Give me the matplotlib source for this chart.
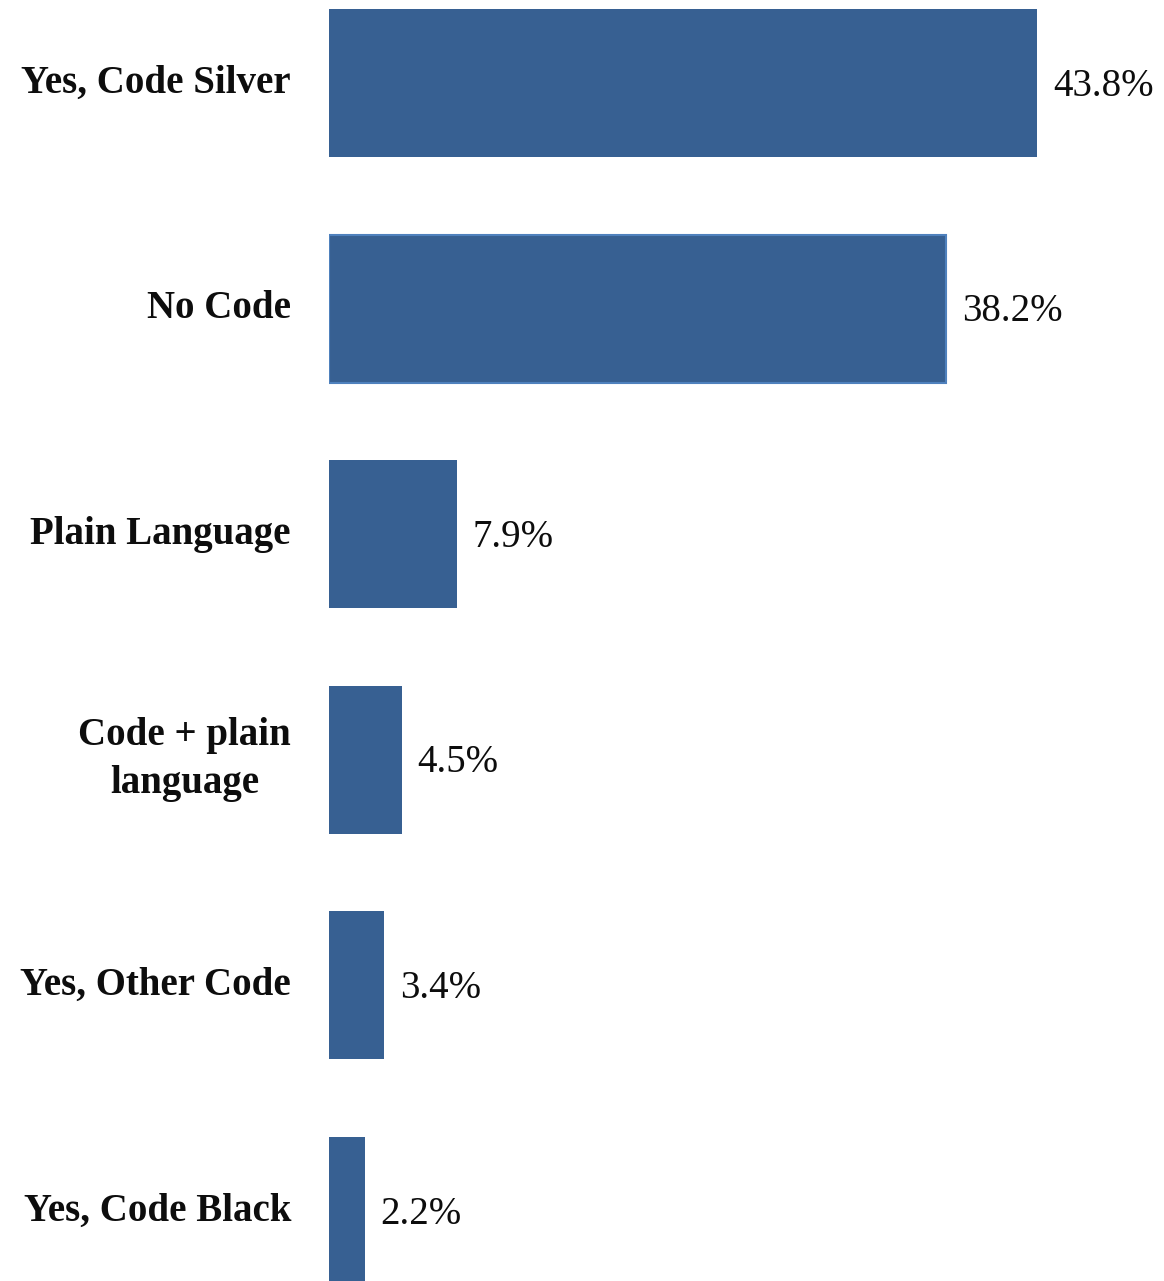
import matplotlib.pyplot as plt

categories = ['Yes, Code Silver', 'No Code', 'Plain Language',
              'Code + plain\nlanguage', 'Yes, Other Code', 'Yes, Code Black']
values = [43.8, 38.2, 7.9, 4.5, 3.4, 2.2]
value_labels = ['43.8%', '38.2%', '7.9%', '4.5%', '3.4%', '2.2%']

bar_color = '#376092'

fig = plt.figure(figsize=(11.64, 12.81), dpi=100)
# axes left edge at the bars' base, full height of the figure
ax = fig.add_axes([329 / 1164, 0, 1 - 329 / 1164, 1])

pos = list(range(len(values)))
bars = ax.barh(pos, values, height=0.656, color=bar_color, edgecolor='none')
# second bar has a lighter outline in the original
bars[1].set_edgecolor('#4f81bd')
bars[1].set_linewidth(1.5)

ax.set_xlim(0, (1164 - 329) / 16.16)
ax.set_ylim((1281 - 83) / 225.6, -83 / 225.6)
ax.axis('off')

for p, v, lab in zip(pos, values, value_labels):
    ax.annotate(lab, (v, p), xytext=(16, -3), textcoords='offset pixels',
                ha='left', va='center', fontsize=28, family='Liberation Serif',
                color='#0d0d0d')

for p, cat in zip(pos, categories):
    ax.annotate(cat, (0, p), xytext=(-38, 0), textcoords='offset pixels',
                ha='right', va='center', multialignment='center',
                fontsize=28, fontweight='bold', family='Liberation Serif',
                linespacing=1.4, color='#0d0d0d', annotation_clip=False)

fig.savefig('out.png', dpi=100)
